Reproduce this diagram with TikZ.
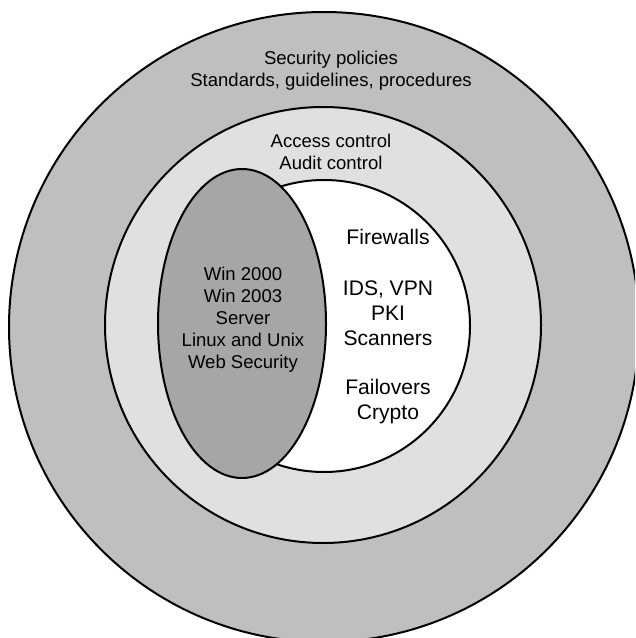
\documentclass[tikz,border=0pt]{standalone}
\usepackage{fontspec}
\setmainfont{Liberation Sans}
\usepackage{tikz}
\usetikzlibrary{backgrounds}
\definecolor{ringout}{gray}{0.75}
\definecolor{ringmid}{gray}{0.88}
\definecolor{osgray}{gray}{0.65}
\begin{document}
\begin{tikzpicture}[x=0.75pt,y=-0.75pt,
  ring/.style={draw=black,line width=1.5pt},
  lbl/.style={align=center,font=\fontsize{13.9}{16.5}\selectfont},
  biglbl/.style={align=center,font=\fontsize{15.8}{18.75}\selectfont}]
\useasboundingbox (0,0) rectangle (635,638);
\clip (0,0) rectangle (635,638);
\fill[white] (0,0) rectangle (635,638);
\draw[ring,fill=ringout] (324,327) circle[radius=315];
\draw[ring,fill=ringmid] (323,325) circle[radius=218];
\draw[ring,fill=white] (324,326) circle[radius=146];
\draw[ring,fill=osgray] (242,323.5) ellipse[x radius=84,y radius=154.5];
\node[lbl] (policies) at (331,71) {Security policies\\Standards, guidelines, procedures};
\node[lbl] (access) at (331,152) {Access control\\Audit control};
\node[lbl] (os) at (243,320) {Win 2000\\Win 2003\\Server\\Linux and Unix\\Web Security};
\node[biglbl] (firewalls) at (388,237) {Firewalls};
\node[biglbl] (ids) at (388,313) {IDS, VPN\\PKI\\Scanners};
\node[biglbl] (failovers) at (388,402) {Failovers\\Crypto};
\end{tikzpicture}
\end{document}
